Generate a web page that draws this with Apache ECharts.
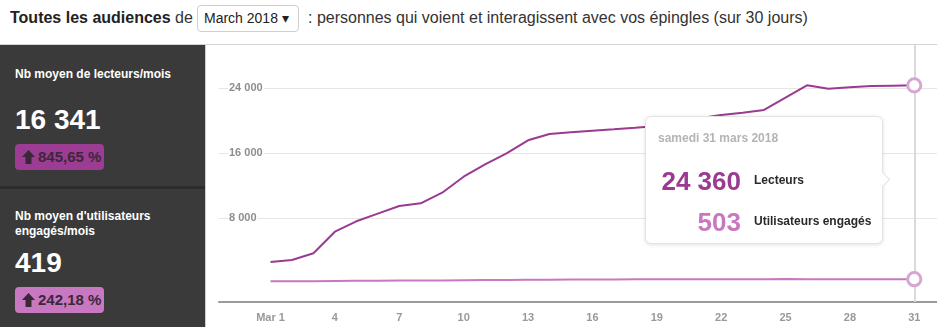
<!DOCTYPE html>
<html>
<head>
<meta charset="utf-8">
<script src="https://cdn.jsdelivr.net/npm/echarts@6/dist/echarts.min.js"></script>
<style>
  html, body { margin: 0; padding: 0; width: 937px; height: 327px; overflow: hidden; background: #fff;
    font-family: "Liberation Sans", Arial, Helvetica, sans-serif; }
  #head { position: absolute; left: 0; top: 0; width: 937px; height: 45px; box-sizing: border-box;
    border-bottom: 1px solid #d4d4d4; }
  .h { position: absolute; top: 9px; font-size: 16px; line-height: 18px; color: #333; white-space: nowrap; }
  .h b { color: #222; }
  #pick { position: absolute; left: 197px; top: 5px; width: 102px; height: 27px; box-sizing: border-box;
    border: 1px solid #cfcfcf; border-radius: 4px; font-size: 14px; line-height: 25px; padding-left: 6px; color: #222;
    white-space: nowrap; }
  #side { position: absolute; left: 0; top: 45px; width: 205px; height: 282px; background: #3a3a3a;
    border-right: 1px solid #cfcfcf; }
  #sep { position: absolute; left: 0; top: 141px; width: 205px; height: 3px; background: #2c2c2c; }
  .lbl { position: absolute; left: 15px; font-size: 12px; line-height: 15px; font-weight: bold; color: #fff; }
  .big { position: absolute; left: 15px; font-size: 28px; line-height: 30px; font-weight: bold; color: #fff; }
  .badge { position: absolute; left: 15px; width: 89px; height: 26px; border-radius: 4px; font-size: 15px;
    line-height: 26px; font-weight: bold; color: #3a2838; }
  .badge svg { position: absolute; left: 7px; top: 6px; }
  .badge span { position: absolute; left: 23px; }
  #chart { position: absolute; left: 207px; top: 45px; width: 730px; height: 282px; }
  .tip { position: relative; width: 238px; height: 128px; box-sizing: border-box; background: #fff;
    border: 1px solid #e3e3e3; border-radius: 6px; box-shadow: 0 1px 4px rgba(0,0,0,0.12);
    font-family: "Liberation Sans", Arial, Helvetica, sans-serif; font-weight: bold; }
  .tip .d { position: absolute; left: 12px; top: 13px; font-size: 12px; line-height: 16px; color: #b4b4b4; }
  .tip .n { position: absolute; left: 0; width: 95px; text-align: right; font-size: 26px; line-height: 30px; }
  .tip .l { position: absolute; left: 108px; font-size: 12px; line-height: 16px; color: #2a2a2a; white-space: nowrap; }
  .tip .ar { position: absolute; left: 231px; top: 57px; width: 10px; height: 10px; background: #fff;
    border-top: 1px solid #e3e3e3; border-right: 1px solid #e3e3e3; transform: rotate(45deg); }
</style>
</head>
<body>
<div id="head">
  <div class="h" style="left:10px"><b>Toutes les audiences</b> de</div>
  <div id="pick">March 2018 &#9662;</div>
  <div class="h" style="left:308px">: personnes qui voient et interagissent avec vos épingles (sur 30 jours)</div>
</div>
<div id="side">
  <div class="lbl" style="top:22px">Nb moyen de lecteurs/mois</div>
  <div class="big" id="avgL" style="top:60px"></div>
  <div class="badge" id="badgeL" style="top:99px;background:#9c3c93"></div>
  <div id="sep"></div>
  <div class="lbl" style="top:164px">Nb moyen d'utilisateurs<br>engagés/mois</div>
  <div class="big" id="avgE" style="top:203px"></div>
  <div class="badge" id="badgeE" style="top:242px;background:#c878c0"></div>
</div>
<div id="chart"></div>
<script>
// Daily values for March 2018
const days = [1, 2, 3, 4, 5, 6, 7, 8, 9, 10, 11, 12, 13, 14, 15, 16, 17, 18, 19, 20, 21, 22, 23, 24, 25, 26, 27, 28, 29, 30, 31];
const lecteurs = [2620, 2870, 3690, 6350, 7630, 8570, 9510, 9840, 11150, 13120, 14640, 16000, 17600, 18380, 18590, 18780,
                  18950, 19150, 19360, 19690, 20300, 20710, 21000, 21330, 22850, 24370, 23950, 24120, 24280, 24320, 24360];
const engages = [250, 255, 262, 280, 300, 315, 330, 340, 355, 375, 395, 415, 435, 450, 460, 470,
                 478, 485, 490, 495, 500, 505, 510, 512, 515, 512, 500, 495, 498, 500, 503];
const xTicks = [1, 4, 7, 10, 13, 16, 19, 22, 25, 28, 31];
const yTicks = [8000, 16000, 24000];

// Monthly summary figures
const avgLecteurs = 16341, evoLecteurs = '845,65 %';
const avgEngages = 419, evoEngages = '242,18 %';

const COL_L = '#9b3a91', COL_E = '#c878c0', RING = '#d6a6d3';
const weekdays = ['dimanche', 'lundi', 'mardi', 'mercredi', 'jeudi', 'vendredi', 'samedi'];

function fmt(v) { return String(v).replace(/\B(?=(\d{3})+(?!\d))/g, ' '); }

const arrowSvg = '<svg width="13" height="14" viewBox="0 0 13 14"><path d="M6.5 0 L13 7 L9.5 7 L9.5 14 L3.5 14 L3.5 7 L0 7 Z" fill="#3a2838"/></svg>';
document.getElementById('avgL').textContent = fmt(avgLecteurs);
document.getElementById('avgE').textContent = fmt(avgEngages);
document.getElementById('badgeL').innerHTML = arrowSvg + '<span>' + evoLecteurs + '</span>';
document.getElementById('badgeE').innerHTML = arrowSvg + '<span>' + evoEngages + '</span>';

const last = days.length - 1;
function seriesData(values) {
  return days.map((d, i) => i === last
    ? { value: [d, values[i]], symbol: 'circle', symbolSize: 12,
        itemStyle: { color: '#fff', borderColor: RING, borderWidth: 3 } }
    : [d, values[i]]);
}

const chart = echarts.init(document.getElementById('chart'), null, { renderer: 'canvas' });
chart.setOption({
  animation: false,
  grid: { left: 12, right: 0, top: 0, bottom: 25 },
  xAxis: {
    type: 'value', min: -1.4, max: 32.06,
    axisLine: { show: true, onZero: false, lineStyle: { color: '#9a9a9a', width: 2 } },
    axisTick: { show: false },
    splitLine: { show: false },
    axisLabel: {
      customValues: xTicks, margin: 10,
      color: '#999', fontSize: 11, fontWeight: 'bold', fontFamily: 'Liberation Sans, Arial, sans-serif',
      formatter: v => v === 1 ? 'Mar 1' : String(v)
    }
  },
  yAxis: {
    type: 'value', min: -2302, max: 29329,
    axisLine: { show: false },
    axisTick: { show: false, customValues: yTicks },
    splitLine: { show: true, lineStyle: { color: '#e6e6e6', width: 1 } },
    axisLabel: {
      customValues: yTicks, inside: true, margin: 9,
      color: '#8e8e8e', fontSize: 11, fontWeight: 'bold', fontFamily: 'Liberation Sans, Arial, sans-serif',
      backgroundColor: '#fff', padding: [1, 1],
      formatter: v => fmt(v)
    }
  },
  tooltip: {
    trigger: 'axis', alwaysShowContent: true, triggerOn: 'none',
    transitionDuration: 0, padding: 0, borderWidth: 0, backgroundColor: 'transparent',
    extraCssText: 'box-shadow:none;',
    position: [438, 71],
    axisPointer: { type: 'line', z: 1, lineStyle: { color: '#d9d9d9', width: 2, type: 'solid' } },
    formatter: params => {
      const d = params[0].value[0];
      const dt = new Date(2018, 2, d);
      const byName = {};
      params.forEach(p => { byName[p.seriesName] = p.value[1]; });
      return '<div class="tip">' +
        '<div class="d">' + weekdays[dt.getDay()] + ' ' + d + ' mars 2018</div>' +
        '<div class="n" style="top:49px;color:' + COL_L + '">' + fmt(byName['Lecteurs']) + '</div>' +
        '<div class="l" style="top:55px">Lecteurs</div>' +
        '<div class="n" style="top:90px;color:' + COL_E + '">' + fmt(byName['Utilisateurs engagés']) + '</div>' +
        '<div class="l" style="top:96px">Utilisateurs engagés</div>' +
        '<div class="ar"></div></div>';
    }
  },
  series: [
    { name: 'Lecteurs', type: 'line', data: seriesData(lecteurs), symbol: 'none', showSymbol: true,
      lineStyle: { color: COL_L, width: 2 }, itemStyle: { color: COL_L }, z: 3, emphasis: { disabled: true } },
    { name: 'Utilisateurs engagés', type: 'line', data: seriesData(engages), symbol: 'none', showSymbol: true,
      lineStyle: { color: COL_E, width: 2 }, itemStyle: { color: COL_E }, z: 3, emphasis: { disabled: true } }
  ]
});
chart.dispatchAction({ type: 'showTip', seriesIndex: 0, dataIndex: last });
</script>
</body>
</html>
